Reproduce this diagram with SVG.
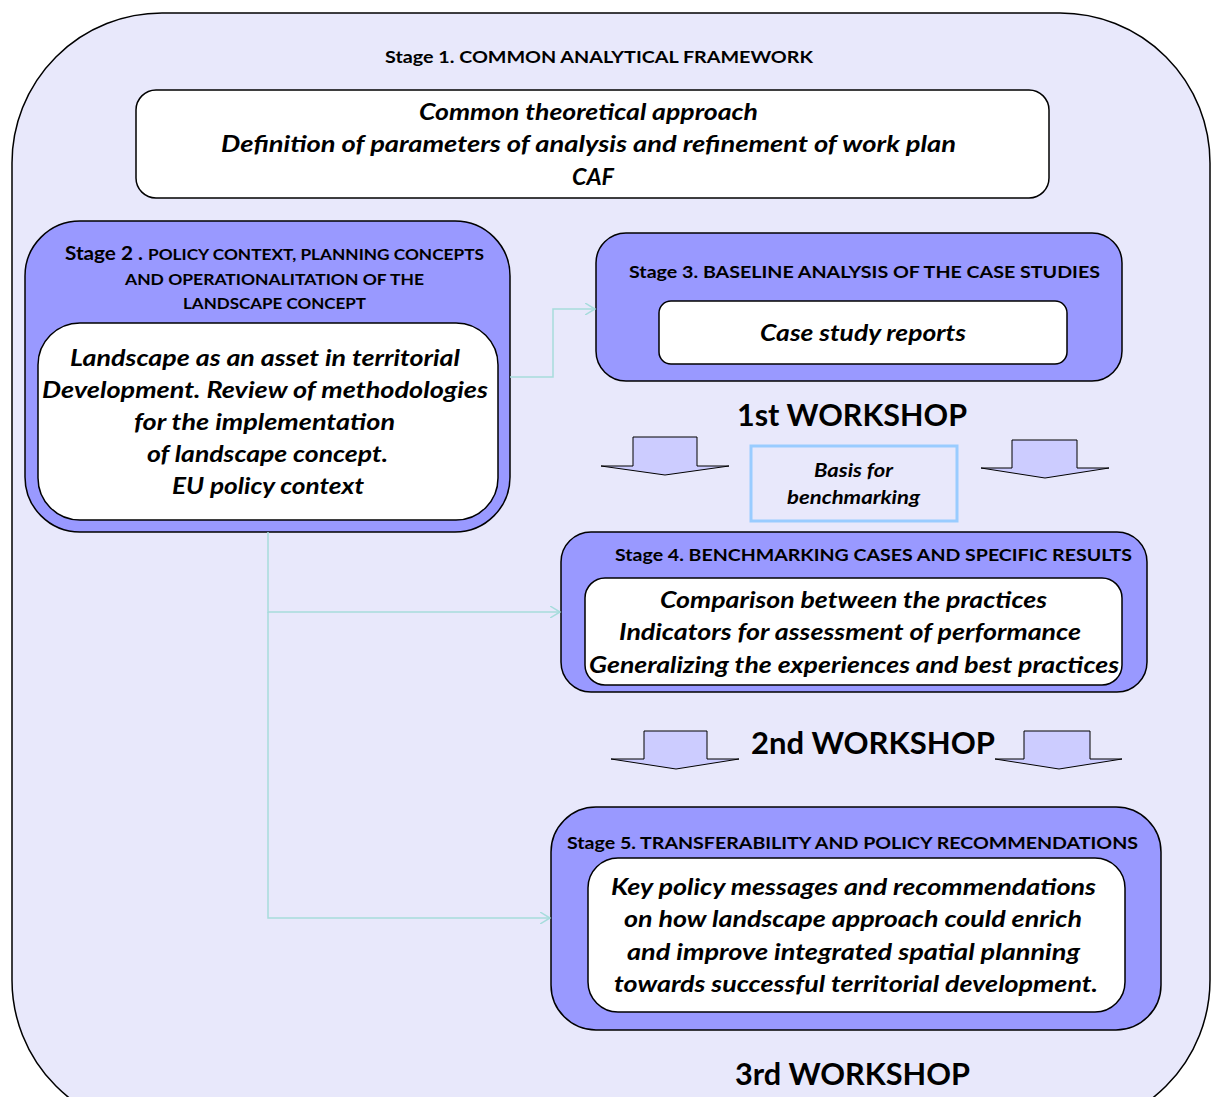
<svg xmlns="http://www.w3.org/2000/svg" width="1213" height="1097" viewBox="0 0 1213 1097">
<defs>
<style>
.t{font-family:Lato,"Open Sans","Liberation Sans",sans-serif;font-weight:bold;fill:#000;text-anchor:middle}
.h{font-size:17px}
.hs{font-size:15px}
.i{font-size:22px;font-style:italic}
.w{font-size:30px}
.stage{fill:#9999ff;stroke:#000;stroke-width:1.5}
.inner{fill:#fff;stroke:#000;stroke-width:1.5}
.blk{fill:#ccccff;stroke:#000;stroke-width:1}
.con{fill:none;stroke:#a6dcdc;stroke-width:1.5}
</style>
<marker id="ah" markerWidth="12" markerHeight="12" refX="10" refY="6" orient="auto" markerUnits="userSpaceOnUse">
<path d="M0,0 L10,6 L0,12" fill="none" stroke="#a6dcdc" stroke-width="1.5"/>
</marker>
</defs>
<rect x="0" y="0" width="1213" height="1097" fill="#fff"/>
<g id="stage1">
<rect x="12" y="13" width="1198" height="1117" rx="150" ry="150" fill="#e8e8fb" stroke="#000" stroke-width="1.5"/>
<text class="t h" x="599" y="63" textLength="428" lengthAdjust="spacingAndGlyphs">Stage 1. COMMON ANALYTICAL FRAMEWORK</text>
<rect class="inner" x="136" y="90" width="913" height="108" rx="20"/>
<text class="t i" x="588.5" y="120" textLength="339" lengthAdjust="spacingAndGlyphs">Common theoretical approach</text>
<text class="t i" x="588.5" y="152" textLength="735" lengthAdjust="spacingAndGlyphs">Definition of parameters of analysis  and refinement of work plan</text>
<text class="t i" x="593" y="185" textLength="42" lengthAdjust="spacingAndGlyphs">CAF</text>
</g>
<g id="stage2">
<rect class="stage" x="25" y="221" width="485" height="311" rx="55"/>
<text class="t hs" x="274.5" y="260" textLength="419" lengthAdjust="spacingAndGlyphs"><tspan font-size="18">Stage 2 . </tspan>POLICY CONTEXT, PLANNING CONCEPTS</text>
<text class="t hs" x="274.5" y="285" textLength="299" lengthAdjust="spacingAndGlyphs">AND OPERATIONALITATION OF THE</text>
<text class="t hs" x="274.5" y="309" textLength="183" lengthAdjust="spacingAndGlyphs">LANDSCAPE CONCEPT</text>
<rect class="inner" x="38" y="323" width="460" height="197" rx="42"/>
<text class="t i" x="265" y="366" textLength="390" lengthAdjust="spacingAndGlyphs">Landscape as an asset in territorial</text>
<text class="t i" x="265" y="398" textLength="446" lengthAdjust="spacingAndGlyphs">Development. Review of methodologies</text>
<text class="t i" x="264.5" y="430" textLength="261" lengthAdjust="spacingAndGlyphs">for the implementation</text>
<text class="t i" x="267.5" y="462" textLength="241" lengthAdjust="spacingAndGlyphs">of landscape concept.</text>
<text class="t i" x="268" y="494" textLength="192" lengthAdjust="spacingAndGlyphs">EU policy context</text>
</g>
<g id="stage3">
<rect class="stage" x="596" y="233" width="526" height="148" rx="30"/>
<text class="t h" x="864.5" y="278" textLength="471" lengthAdjust="spacingAndGlyphs">Stage 3. BASELINE ANALYSIS OF THE CASE STUDIES</text>
<rect class="inner" x="659" y="301" width="408" height="63" rx="12"/>
<text class="t i" x="863" y="341" textLength="206" lengthAdjust="spacingAndGlyphs">Case study reports</text>
</g>
<g id="workshop1">
<text class="t w" x="852" y="426" textLength="230" lengthAdjust="spacingAndGlyphs">1st WORKSHOP</text>
<polygon class="blk" points="633,437 697,437 697,466 729,466 665,475 601,466 633,466"/>
<polygon class="blk" points="1012,440 1077,440 1077,468 1109,468 1045,478 981,468 1012,468"/>
</g>
<g id="basis">
<rect x="751" y="446" width="206" height="75" fill="#e8e8fb" stroke="#99ccff" stroke-width="3"/>
<text class="t" font-size="19" font-style="italic" x="853.5" y="477" textLength="79" lengthAdjust="spacingAndGlyphs">Basis for</text>
<text class="t" font-size="19" font-style="italic" x="853.5" y="504" textLength="133" lengthAdjust="spacingAndGlyphs">benchmarking</text>
</g>
<g id="stage4">
<rect class="stage" x="561" y="532" width="586" height="160" rx="30"/>
<text class="t h" x="873.5" y="561" textLength="517" lengthAdjust="spacingAndGlyphs">Stage 4. BENCHMARKING CASES AND SPECIFIC RESULTS</text>
<rect class="inner" x="585" y="578" width="537" height="107" rx="20"/>
<text class="t i" x="853.5" y="608" textLength="387" lengthAdjust="spacingAndGlyphs">Comparison between the practices</text>
<text class="t i" x="850" y="640" textLength="462" lengthAdjust="spacingAndGlyphs">Indicators for assessment of performance</text>
<text class="t i" x="854" y="673" textLength="530" lengthAdjust="spacingAndGlyphs">Generalizing the experiences and best practices</text>
</g>
<g id="workshop2">
<polygon class="blk" points="644,731 707,731 707,759 739,759 676,769 611,759 644,759"/>
<text class="t w" x="873" y="754" textLength="244" lengthAdjust="spacingAndGlyphs">2nd WORKSHOP</text>
<polygon class="blk" points="1024,731 1090,731 1090,759 1122,759 1059,769 995,759 1024,759"/>
</g>
<g id="stage5">
<rect class="stage" x="551" y="807" width="610" height="223" rx="45"/>
<text class="t h" x="852.5" y="849" textLength="571" lengthAdjust="spacingAndGlyphs">Stage 5. TRANSFERABILITY AND POLICY RECOMMENDATIONS</text>
<rect class="inner" x="588" y="858" width="537" height="154" rx="30"/>
<text class="t i" x="853.5" y="895" textLength="485" lengthAdjust="spacingAndGlyphs">Key policy messages and recommendations</text>
<text class="t i" x="853" y="927" textLength="458" lengthAdjust="spacingAndGlyphs">on how landscape approach could enrich</text>
<text class="t i" x="853.5" y="960" textLength="453" lengthAdjust="spacingAndGlyphs">and improve integrated spatial planning</text>
<text class="t i" x="856" y="992" textLength="484" lengthAdjust="spacingAndGlyphs">towards successful territorial development.</text>
</g>
<g id="workshop3">
<text class="t w" x="852.5" y="1085" textLength="235" lengthAdjust="spacingAndGlyphs">3rd WORKSHOP</text>
</g>
<g id="connectors">
<polyline class="con" points="510,377 553,377 553,309 595,309" marker-end="url(#ah)"/>
<polyline class="con" points="268,532 268,612 560,612" marker-end="url(#ah)"/>
<polyline class="con" points="268,612 268,918 550,918" marker-end="url(#ah)"/>
</g>
</svg>
